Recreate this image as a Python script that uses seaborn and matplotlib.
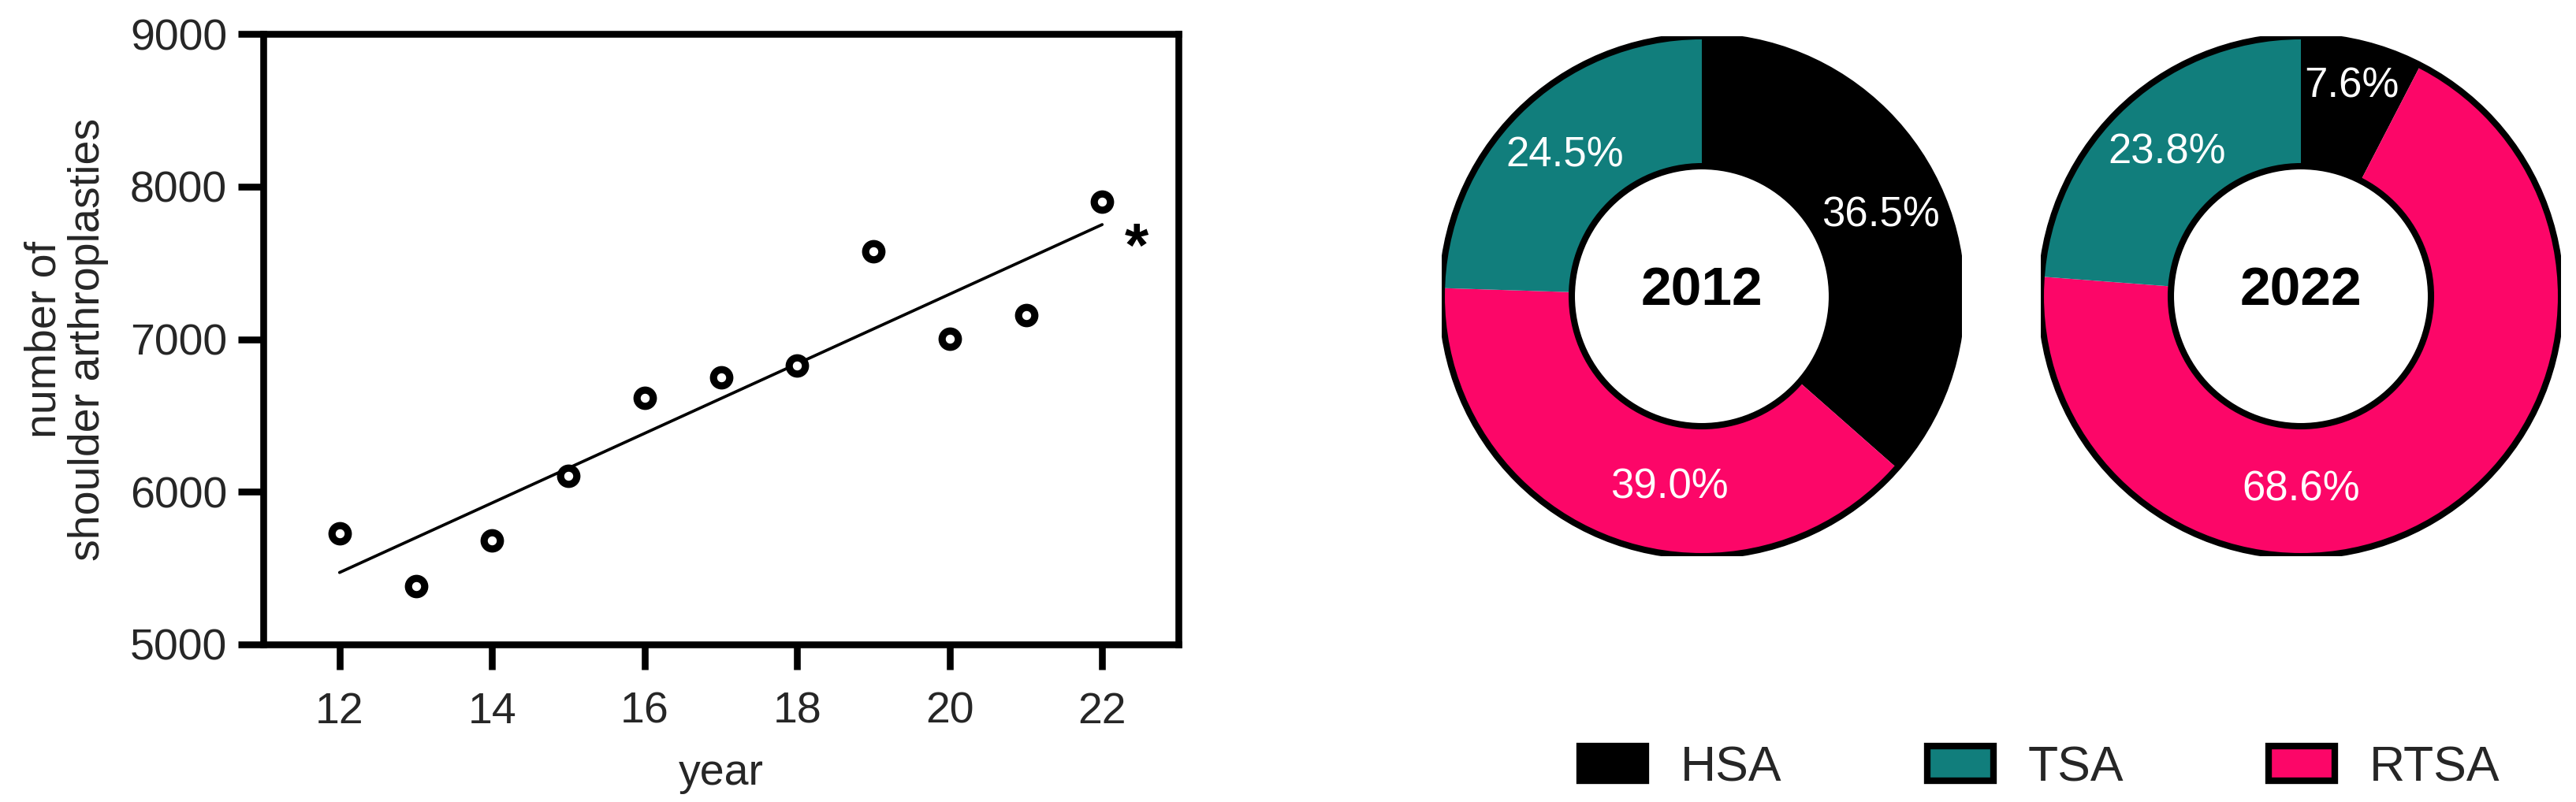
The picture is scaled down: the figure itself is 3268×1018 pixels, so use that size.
import matplotlib
matplotlib.use("Agg")
import matplotlib.pyplot as plt
from matplotlib.patches import Patch, Circle
import numpy as np
import pandas as pd
import seaborn as sns

# ---------------- data ----------------
years = [12, 13, 14, 15, 16, 17, 18, 19, 20, 21, 22]
counts = [5730, 5380, 5680, 6105, 6615, 6750, 6825, 7575, 7005, 7155, 7900]

categories = ["HSA", "TSA", "RTSA"]
pct_2012 = [36.5, 24.5, 39.0]
pct_2022 = [7.6, 23.8, 68.6]
pie_years = ["2012", "2022"]

colors = {"HSA": "#000000", "TSA": "#117E7C", "RTSA": "#FC0668"}
wedge_order = ["HSA", "RTSA", "TSA"]  # clockwise from 12 o'clock

# ---------------- style ----------------
sns.set_style("ticks")
plt.rcParams["font.family"] = ["Liberation Sans", "DejaVu Sans"]

W, H = 3268, 1018
DPI = 100
fig = plt.figure(figsize=(W / DPI, H / DPI), dpi=DPI)

def px_axes(left, top, right, bottom):
    return [left / W, 1 - bottom / H, (right - left) / W, (bottom - top) / H]

# ---------------- scatter + regression ----------------
ax = fig.add_axes(px_axes(334, 43, 1495, 818))
df = pd.DataFrame({"year": years, "count": counts})
sns.regplot(data=df, x="year", y="count", ax=ax, scatter=False, ci=None,
            truncate=True, line_kws=dict(color="black", lw=2.7))
sns.scatterplot(data=df, x="year", y="count", ax=ax, marker="o", s=220,
                facecolor="white", edgecolor="black", linewidth=6.6, zorder=5)
ax.text(22.45, 7480, "*", ha="center", va="baseline", fontsize=56,
        fontweight="bold", color="black")

ax.set_xlim(11, 23)
ax.set_ylim(5000, 9000)
ax.set_xticks(range(12, 23, 2))
ax.set_yticks(range(5000, 9001, 1000))
for sp in ax.spines.values():
    sp.set_visible(True)
    sp.set_linewidth(6.2)
    sp.set_color("black")
ax.tick_params(axis="both", direction="out", length=23, width=6.2,
               labelsize=40, color="black")
ax.tick_params(axis="x", pad=20)
ax.tick_params(axis="y", pad=10)
ax.set_xlabel("year", fontsize=40, va="center")
ax.xaxis.set_label_coords(0.5, -0.2116)
ax.set_ylabel("number of\nshoulder arthroplasties", fontsize=40,
              va="center", linespacing=1.08)
ax.yaxis.set_label_coords(-0.2150, 0.5)

# ---------------- donuts ----------------
R = 330
centers = [(2159, 376), (2919, 376)]
for (cx, cy), yr, pcts in zip(centers, pie_years, [pct_2012, pct_2022]):
    pax = fig.add_axes(px_axes(cx - R, cy - R, cx + R, cy + R))
    vals = [pcts[categories.index(c)] for c in wedge_order]
    cols = [colors[c] for c in wedge_order]
    wedges, texts, autotexts = pax.pie(
        vals, colors=cols, startangle=90, counterclock=False, radius=1,
        wedgeprops=dict(width=0.5, linewidth=0),
        autopct=lambda p: f"{p:.1f}%", pctdistance=0.755,
        textprops=dict(color="white", fontsize=38))
    for c, t, v in zip(wedge_order, autotexts, vals):
        x, y = t.get_position()
        if v < 10:
            # thin slice: label pushed outward
            t.set_position((x * 0.83 / 0.755, y * 0.83 / 0.755))
        elif c == "RTSA":
            # lower slice labels sit nearer the bottom of the ring
            ang = np.arctan2(y, x)
            target = -np.pi / 2
            ang = target + (ang - target) * (0.45 if v < 60 else 0.0)
            t.set_position((0.745 * np.cos(ang), 0.745 * np.sin(ang)))
    pax.add_patch(Circle((0, 0), 1.0, fill=False, edgecolor="black", lw=5.8, zorder=4))
    pax.add_patch(Circle((0, 0), 0.5, facecolor="white", edgecolor="black", lw=5.8, zorder=4))
    pax.text(0, 0.02, yr, ha="center", va="center", fontsize=50,
             fontweight="bold", color="black", zorder=6)
    pax.set_xlim(-1, 1)
    pax.set_ylim(-1, 1)
    pax.set_aspect("equal", adjustable="box")
    pax.axis("off")

# ---------------- legend ----------------
handles = [Patch(facecolor=colors[c], edgecolor="black", linewidth=6, label=c)
           for c in categories]
fig.legend(handles=handles, loc="center", bbox_to_anchor=(2588 / W, 1 - 974.5 / H),
           ncol=3, frameon=False, fontsize=45, handlelength=1.34,
           handleheight=0.72, handletextpad=0.7, columnspacing=2.95)

fig.savefig("out.png", dpi=DPI, facecolor="white")
